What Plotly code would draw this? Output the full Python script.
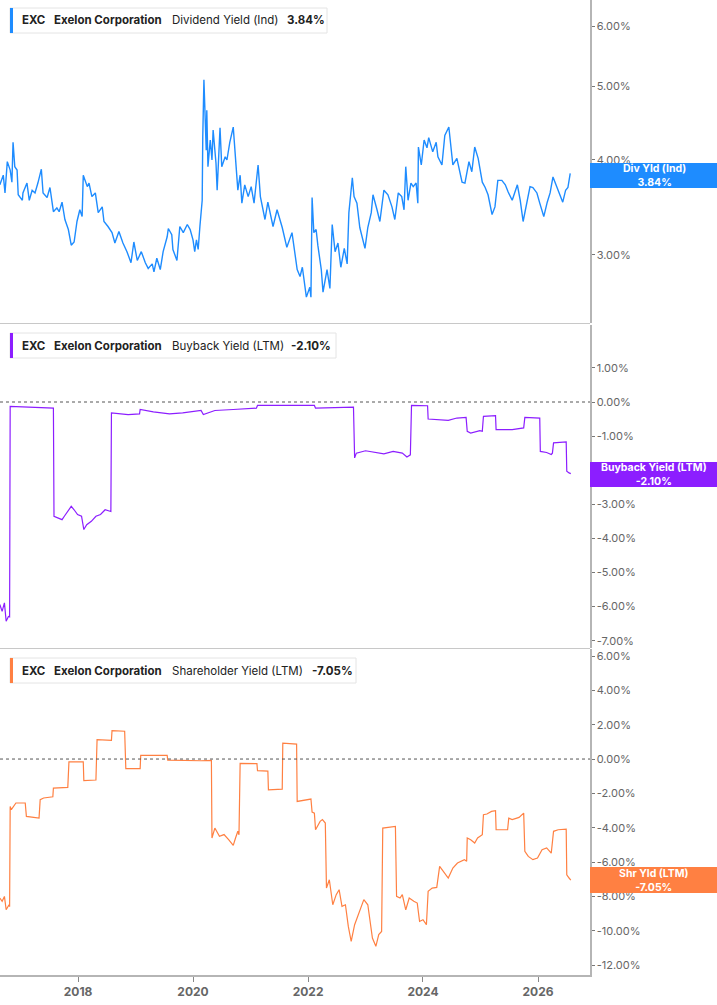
import math
from datetime import datetime, timedelta
import plotly.graph_objects as go

# ---------------- data (decimal years, percent values) ----------------
div_t = [2016.64, 2016.70, 2016.73, 2016.77, 2016.82, 2016.85, 2016.87, 2016.90, 2016.94, 2016.96,
         2017.03, 2017.04, 2017.11, 2017.15, 2017.20, 2017.25, 2017.30, 2017.36, 2017.39, 2017.46,
         2017.51, 2017.57, 2017.63, 2017.67, 2017.72, 2017.77, 2017.83, 2017.88, 2017.93, 2017.98,
         2018.03, 2018.07, 2018.09, 2018.16, 2018.19, 2018.24, 2018.30, 2018.35, 2018.42, 2018.45,
         2018.52, 2018.59, 2018.64, 2018.71, 2018.78, 2018.85, 2018.92, 2018.97, 2019.03, 2019.10,
         2019.17, 2019.22, 2019.29, 2019.32, 2019.37, 2019.43, 2019.48, 2019.55, 2019.57, 2019.63,
         2019.65, 2019.72, 2019.77, 2019.83, 2019.90, 2019.95, 2020.00, 2020.03, 2020.06, 2020.09,
         2020.12, 2020.16, 2020.17, 2020.19, 2020.23, 2020.24, 2020.26, 2020.30, 2020.33, 2020.35,
         2020.40, 2020.42, 2020.47, 2020.50, 2020.56, 2020.59, 2020.64, 2020.70, 2020.75, 2020.78,
         2020.82, 2020.85, 2020.90, 2020.96, 2021.01, 2021.06, 2021.13, 2021.17, 2021.25, 2021.30,
         2021.39, 2021.46, 2021.55, 2021.63, 2021.72, 2021.81, 2021.86, 2021.90, 2021.97, 2022.03,
         2022.05, 2022.07, 2022.10, 2022.14, 2022.17, 2022.23, 2022.26, 2022.33, 2022.38, 2022.42,
         2022.47, 2022.52, 2022.57, 2022.63, 2022.68, 2022.71, 2022.77, 2022.80, 2022.85, 2022.90,
         2022.99, 2023.04, 2023.10, 2023.13, 2023.20, 2023.25, 2023.32, 2023.39, 2023.46, 2023.51,
         2023.57, 2023.63, 2023.67, 2023.70, 2023.74, 2023.79, 2023.83, 2023.88, 2023.91, 2023.92,
         2023.97, 2024.02, 2024.07, 2024.10, 2024.17, 2024.23, 2024.26, 2024.33, 2024.38, 2024.45,
         2024.52, 2024.59, 2024.68, 2024.73, 2024.80, 2024.85, 2024.90, 2024.96, 2025.03, 2025.08,
         2025.13, 2025.20, 2025.25, 2025.30, 2025.37, 2025.43, 2025.48, 2025.55, 2025.64, 2025.69,
         2025.74, 2025.81, 2025.86, 2025.91, 2025.98, 2026.03, 2026.10, 2026.16, 2026.21, 2026.26,
         2026.33, 2026.38, 2026.43, 2026.48, 2026.52, 2026.56]
div_v = [3.71, 3.82, 3.62, 3.98, 3.88, 3.74, 4.22, 3.92, 3.88, 3.60,
         3.54, 3.62, 3.73, 3.54, 3.65, 3.62, 3.73, 3.89, 3.62, 3.57,
         3.68, 3.42, 3.46, 3.42, 3.52, 3.34, 3.24, 3.09, 3.12, 3.32,
         3.44, 3.37, 3.82, 3.69, 3.73, 3.58, 3.62, 3.41, 3.47, 3.32,
         3.27, 3.21, 3.11, 3.22, 3.11, 3.03, 2.93, 3.12, 2.95, 3.03,
         2.93, 2.88, 2.92, 2.85, 2.97, 2.87, 3.03, 3.17, 3.25, 3.19,
         3.05, 2.95, 3.27, 3.21, 3.29, 3.24, 3.14, 3.03, 3.14, 3.05,
         3.27, 3.54, 4.29, 5.10, 4.12, 4.65, 3.92, 4.25, 4.00, 4.38,
         3.96, 3.65, 4.41, 3.92, 4.04, 4.00, 4.22, 4.42, 3.92, 3.65,
         3.82, 3.51, 3.71, 3.58, 3.69, 3.51, 3.94, 3.58, 3.34, 3.52,
         3.27, 3.44, 3.26, 3.07, 3.21, 2.87, 2.81, 2.89, 2.64, 2.72,
         2.64, 3.57, 3.21, 3.24, 3.09, 2.87, 2.68, 2.87, 2.71, 3.29,
         3.03, 3.11, 2.89, 3.06, 2.92, 3.41, 3.79, 3.58, 3.51, 3.26,
         3.06, 3.26, 3.41, 3.60, 3.44, 3.32, 3.65, 3.60, 3.47, 3.34,
         3.62, 3.58, 3.44, 3.92, 3.54, 3.73, 3.69, 3.73, 3.51, 4.16,
         3.94, 4.25, 4.15, 4.28, 4.10, 4.22, 4.04, 3.94, 4.31, 4.42,
         3.94, 4.02, 3.74, 3.73, 3.98, 3.86, 4.16, 4.02, 3.74, 3.68,
         3.60, 3.39, 3.47, 3.76, 3.76, 3.71, 3.63, 3.54, 3.71, 3.54,
         3.32, 3.51, 3.69, 3.68, 3.62, 3.51, 3.37, 3.52, 3.62, 3.80,
         3.69, 3.60, 3.52, 3.65, 3.68, 3.84]

buy_t = [2016.64, 2016.68, 2016.72, 2016.75, 2016.79, 2016.81, 2016.82, 2017.12, 2017.57, 2017.58,
         2017.64, 2017.72, 2017.76, 2017.84, 2017.88, 2017.93, 2017.99, 2018.06, 2018.10, 2018.15,
         2018.23, 2018.31, 2018.39, 2018.47, 2018.55, 2018.57, 2018.58, 2018.87, 2019.07, 2019.08,
         2019.31, 2019.59, 2019.82, 2020.14, 2020.18, 2020.38, 2020.70, 2021.10, 2021.12, 2022.11,
         2022.13, 2022.79, 2022.81, 2022.84, 2023.00, 2023.16, 2023.32, 2023.48, 2023.64, 2023.72,
         2023.78, 2023.80, 2024.08, 2024.09, 2024.44, 2024.59, 2024.75, 2024.77, 2024.83, 2024.99,
         2025.03, 2025.05, 2025.26, 2025.27, 2025.55, 2025.75, 2025.77, 2026.03, 2026.04, 2026.15,
         2026.23, 2026.25, 2026.27, 2026.49, 2026.50, 2026.54, 2026.57]
buy_v = [-5.94, -6.14, -5.89, -6.43, -6.29, -6.30, -0.13, -0.15, -0.18, -3.35,
         -3.40, -3.45, -3.35, -3.16, -3.06, -3.16, -3.30, -3.35, -3.74, -3.60,
         -3.50, -3.35, -3.30, -3.16, -3.21, -3.21, -0.32, -0.37, -0.35, -0.22,
         -0.29, -0.35, -0.32, -0.25, -0.37, -0.25, -0.22, -0.18, -0.10, -0.10,
         -0.18, -0.15, -1.64, -1.50, -1.43, -1.47, -1.52, -1.45, -1.50, -1.61,
         -1.55, -0.10, -0.11, -0.50, -0.54, -0.47, -0.45, -0.86, -0.91, -0.84,
         -0.86, -0.42, -0.40, -0.81, -0.81, -0.76, -0.45, -0.47, -1.45, -1.48,
         -1.54, -1.50, -1.20, -1.17, -2.03, -2.08, -2.10]

shr_t = [2016.64, 2016.68, 2016.72, 2016.75, 2016.80, 2016.81, 2016.82, 2016.84, 2016.92, 2017.08,
         2017.10, 2017.32, 2017.34, 2017.40, 2017.56, 2017.57, 2017.82, 2017.84, 2018.09, 2018.10,
         2018.31, 2018.33, 2018.58, 2018.59, 2018.81, 2018.83, 2019.08, 2019.09, 2019.55, 2019.56,
         2020.14, 2020.32, 2020.33, 2020.38, 2020.46, 2020.54, 2020.62, 2020.70, 2020.74, 2020.78,
         2020.80, 2020.82, 2021.11, 2021.12, 2021.30, 2021.31, 2021.55, 2021.56, 2021.80, 2021.81,
         2022.05, 2022.07, 2022.11, 2022.13, 2022.21, 2022.25, 2022.30, 2022.32, 2022.37, 2022.43,
         2022.49, 2022.54, 2022.59, 2022.65, 2022.70, 2022.75, 2022.81, 2022.89, 2022.97, 2023.04,
         2023.08, 2023.12, 2023.18, 2023.23, 2023.28, 2023.30, 2023.52, 2023.54, 2023.60, 2023.64,
         2023.70, 2023.76, 2023.84, 2023.90, 2023.94, 2024.00, 2024.06, 2024.09, 2024.16, 2024.24,
         2024.29, 2024.36, 2024.44, 2024.52, 2024.60, 2024.72, 2024.76, 2024.77, 2024.83, 2024.90,
         2024.95, 2025.03, 2025.05, 2025.11, 2025.19, 2025.26, 2025.27, 2025.47, 2025.49, 2025.55,
         2025.67, 2025.75, 2025.77, 2025.83, 2025.91, 2025.99, 2026.07, 2026.15, 2026.23, 2026.27,
         2026.35, 2026.49, 2026.50, 2026.54, 2026.57]
shr_v = [-8.10, -8.29, -8.00, -8.78, -8.49, -8.60, -2.76, -2.95, -2.56, -2.56,
         -3.34, -3.44, -2.37, -2.27, -2.20, -1.69, -1.65, -0.17, -0.17, -1.26,
         -1.22, 1.13, 1.09, 1.65, 1.62, -0.56, -0.56, 0.21, 0.21, -0.06,
         -0.10, -0.08, -4.60, -4.02, -4.50, -4.40, -4.70, -5.03, -4.60, -4.21,
         -4.41, -0.25, -0.27, -0.68, -0.70, -1.79, -1.75, 0.93, 0.87, -2.47,
         -2.33, -3.09, -3.15, -4.12, -3.63, -3.53, -3.73, -7.51, -7.03, -8.49,
         -7.90, -7.61, -8.58, -8.49, -9.75, -10.62, -9.65, -8.87, -8.19, -8.49,
         -9.65, -10.43, -10.91, -10.23, -10.04, -4.02, -3.92, -8.00, -8.10, -7.90,
         -8.78, -8.10, -8.29, -8.39, -9.46, -9.36, -9.65, -7.71, -7.52, -7.48,
         -6.25, -6.54, -6.93, -6.35, -6.06, -5.86, -5.96, -4.60, -4.70, -4.89,
         -4.60, -4.41, -3.24, -3.20, -3.05, -3.01, -4.12, -4.12, -3.44, -3.53,
         -3.40, -3.15, -5.38, -5.67, -5.86, -5.77, -5.28, -5.18, -5.48, -4.21,
         -4.12, -4.08, -6.74, -6.93, -7.05]

div_ticks = [2.44, 3, 4, 5, 6]
buy_ticks = [1, 0, -1, -3, -4, -5, -6, -7]   # -2.00% is hidden behind the value box
shr_ticks = [6, 4, 2, 0, -2, -4, -6, -8, -10, -12]
x_ticks = ["2018", "2020", "2022", "2024", "2026"]

ticker = "EXC"
company = "Exelon Corporation"
panels = [
    dict(name="Dividend Yield (Ind)", short="Div Yld (Ind)", last="3.84%", color="#1E8CFF"),
    dict(name="Buyback Yield (LTM)", short="Buyback Yield (LTM)", last="-2.10%", color="#8C1EFF"),
    dict(name="Shareholder Yield (LTM)", short="Shr Yld (LTM)", last="-7.05%", color="#FF8042"),
]


def to_date(t):
    y = int(t)
    return datetime(y, 1, 1) + timedelta(days=(t - y) * 365.25)


W, H = 717, 1005
PW = 590          # plot area width (px)
PH = 975          # plot area height (px)


def px(x):
    return x / PW


def py(y):
    return (PH - y) / PH


FONT = "Inter"
fig = go.Figure()
fig.add_trace(go.Scatter(x=[to_date(t) for t in div_t], y=div_v, mode="lines",
                         line=dict(color=panels[0]["color"], width=1.4), yaxis="y", xaxis="x",
                         hoverinfo="skip"))
fig.add_trace(go.Scatter(x=[to_date(t) for t in buy_t], y=buy_v, mode="lines",
                         line=dict(color=panels[1]["color"], width=1.2), yaxis="y2", xaxis="x",
                         hoverinfo="skip"))
fig.add_trace(go.Scatter(x=[to_date(t) for t in shr_t], y=shr_v, mode="lines",
                         line=dict(color=panels[2]["color"], width=1.2), yaxis="y3", xaxis="x",
                         hoverinfo="skip"))

axis_common = dict(side="right", anchor="x", showgrid=False, zeroline=False, showline=True,
                   linecolor="#b5b5b5", linewidth=1.5, ticks="outside", ticklen=3,
                   tickcolor="#777", tickfont=dict(family=FONT, size=11, color="#666"),
                   fixedrange=True)

fig.update_layout(
    width=W, height=H,
    margin=dict(l=0, r=W - PW, t=0, b=H - PH),
    paper_bgcolor="white", plot_bgcolor="white",
    showlegend=False,
    xaxis=dict(domain=[0, 1], anchor="y3", type="date",
               range=[to_date(2016.643), to_date(2026.904)],
               tickvals=[datetime(int(s), 1, 1) for s in x_ticks], ticktext=x_ticks,
               showgrid=False, zeroline=False, showline=True, linecolor="#b5b5b5", linewidth=1.5,
               ticks="outside", ticklen=5, tickcolor="#888",
               tickfont=dict(family=FONT, size=12, color="#666", weight="bold")),
    yaxis=dict(domain=[py(323), 1], type="log",
               range=[math.log10(2.441), math.log10(6.495)],
               tickvals=div_ticks, ticktext=[f"{v:.2f}%" for v in div_ticks], **axis_common),
    yaxis2=dict(domain=[py(648), py(325)], range=[-7.214, 2.258],
                tickvals=buy_ticks, ticktext=[f"{v:.2f}%" for v in buy_ticks], **axis_common),
    yaxis3=dict(domain=[0, py(649)], range=[-12.58, 6.41],
                tickvals=shr_ticks, ticktext=[f"{v:.2f}%" for v in shr_ticks], **axis_common),
)

shapes = []
# panel separators
for yy in (323.5, 648.5):
    shapes.append(dict(type="line", xref="paper", yref="paper", x0=0, x1=1, y0=py(yy), y1=py(yy),
                       line=dict(color="#c8c8c8", width=1.2)))
# zero lines
for ya in ("y2", "y3"):
    shapes.append(dict(type="line", xref="x domain", yref=ya, x0=0, x1=1, y0=0, y1=0,
                       line=dict(color="#555", width=1, dash="dot")))

annotations = []
legend_boxes = [(8, 33, 327), (333, 358, 336), (658, 683, 356)]
name_x = [170, 170, 170]
val_x = [285, 289, 310]
for p, (top, bot, right), nx, vx in zip(panels, legend_boxes, name_x, val_x):
    shapes.append(dict(type="rect", xref="paper", yref="paper", x0=px(10), x1=px(right),
                       y0=py(bot), y1=py(top), fillcolor="white",
                       line=dict(color="#e4e4e4", width=1), layer="above"))
    shapes.append(dict(type="rect", xref="paper", yref="paper", x0=px(10), x1=px(13),
                       y0=py(bot), y1=py(top), fillcolor=p["color"], line=dict(width=0),
                       layer="above"))
    yc = py((top + bot) / 2)
    for txt, xx, bold in ((ticker, 20, True), (company, 52, True), (p["name"], nx, False),
                          (p["last"], vx, True)):
        annotations.append(dict(xref="paper", yref="paper", x=px(xx), y=yc, xanchor="left",
                                yanchor="middle", showarrow=False,
                                text=f"<b>{txt}</b>" if bold else txt,
                                font=dict(family=FONT, size=11.5, color="#222")))

# right-hand value boxes
val_boxes = [(163, 188), (462, 487), (867, 893)]
for p, (top, bot) in zip(panels, val_boxes):
    shapes.append(dict(type="rect", xref="paper", yref="paper", x0=1, x1=px(W + 2),
                       y0=py(bot), y1=py(top), fillcolor=p["color"], line=dict(width=0),
                       layer="above"))
    annotations.append(dict(xref="paper", yref="paper", x=px(654), y=py((top + bot) / 2),
                            xanchor="center", yanchor="middle", showarrow=False,
                            text=f"<b>{p['short']}</b><br><b>{p['last']}</b>",
                            font=dict(family=FONT, size=10.5, color="white")))

fig.update_layout(shapes=shapes, annotations=annotations)
fig.write_html("out.html", config={"displayModeBar": False, "staticPlot": True},
               post_script="document.body.style.margin='0';document.body.style.overflow='hidden';")
